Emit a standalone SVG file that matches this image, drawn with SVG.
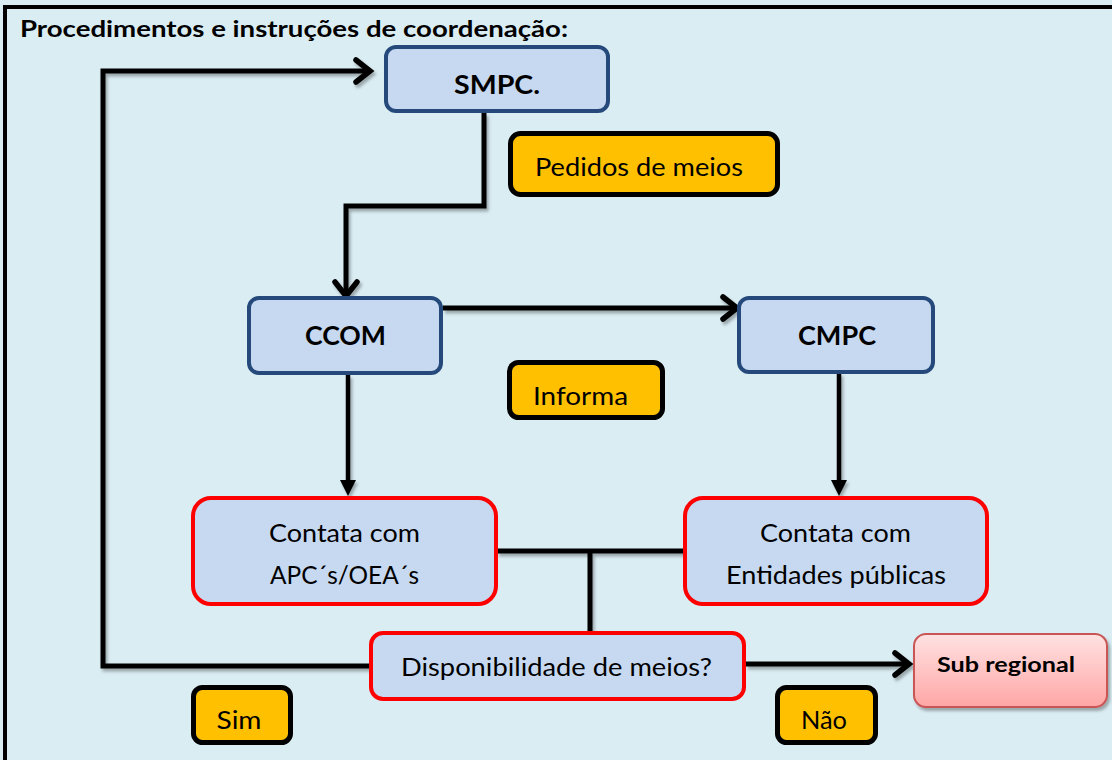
<svg xmlns="http://www.w3.org/2000/svg" width="1112" height="760" viewBox="0 0 1112 760">
<style>
text{font-family:Lato,"Open Sans","Liberation Sans",sans-serif;fill:#000}
.b{font-weight:bold}
.blue{fill:#C6D9F1;stroke:#24497A;stroke-width:4}
.red{fill:#C6D9F1;stroke:#FF0000;stroke-width:4}
.org{fill:#FFC000;stroke:#000;stroke-width:5}
.c{fill:none;stroke:#000;stroke-width:5}
.t{fill:none;stroke:#000;stroke-width:4.5}
</style>
<defs>
<filter id="sh" x="-10%" y="-10%" width="130%" height="130%">
<feDropShadow dx="2" dy="3" stdDeviation="1.5" flood-color="#000" flood-opacity="0.3"/>
</filter>
<linearGradient id="pink" x1="0" y1="0" x2="0" y2="1">
<stop offset="0" stop-color="#FFE2E2"/>
<stop offset="1" stop-color="#FFA6A6"/>
</linearGradient>
<marker id="vee" markerUnits="userSpaceOnUse" markerWidth="34" markerHeight="34" viewBox="-22 -17 34 34" refX="-3" refY="0" orient="auto">
<path d="M-14 -11 L0 0 L-14 11" fill="none" stroke="#000" stroke-width="5.5" stroke-linecap="round" stroke-linejoin="miter"/>
</marker>
<marker id="tri" markerUnits="userSpaceOnUse" markerWidth="30" markerHeight="30" viewBox="-20 -10 30 20" refX="-12" refY="0" orient="auto">
<path d="M-16 -8 L0 0 L-16 8 Z" fill="#000"/>
</marker>
</defs>
<rect x="0" y="0" width="1112" height="760" fill="#DAEDF3"/>
<path d="M5 760 V7 H1112" fill="none" stroke="#000" stroke-width="4"/>
<text class="b" x="20" y="37" font-size="23" textLength="548" lengthAdjust="spacingAndGlyphs">Procedimentos e instruções de coordenação:</text>

<g id="connectors" filter="url(#sh)">
<path class="c" d="M484 113 V206 H346 V293" marker-end="url(#vee)"/>
<path class="c" d="M443 308 H734" marker-end="url(#vee)"/>
<path class="t" d="M348 375 V484" marker-end="url(#tri)"/>
<path class="t" d="M839 373 V484" marker-end="url(#tri)"/>
<path class="c" d="M497 551 H684"/>
<path class="c" d="M590 551 V632"/>
<path class="c" d="M370 666 H103 V71 H367" marker-end="url(#vee)"/>
<path class="c" d="M746 664 H906" marker-end="url(#vee)"/>
</g>

<g id="smpc">
<rect class="blue" x="386" y="47" width="222" height="64" rx="10"/>
<text class="b" x="497" y="94" font-size="26" text-anchor="middle" textLength="86" lengthAdjust="spacingAndGlyphs">SMPC.</text>
</g>
<g id="pedidos">
<rect class="org" x="510.5" y="133.5" width="267" height="61" rx="10"/>
<text x="535" y="176" font-size="25" textLength="208" lengthAdjust="spacingAndGlyphs">Pedidos de meios</text>
</g>
<g id="ccom">
<rect class="blue" x="249" y="298" width="192" height="75" rx="10"/>
<text class="b" x="345.5" y="345" font-size="26" text-anchor="middle" textLength="81" lengthAdjust="spacingAndGlyphs">CCOM</text>
</g>
<g id="cmpc">
<rect class="blue" x="739" y="298" width="194" height="74" rx="10"/>
<text class="b" x="837" y="345" font-size="26" text-anchor="middle" textLength="78" lengthAdjust="spacingAndGlyphs">CMPC</text>
</g>
<g id="informa">
<rect class="org" x="509.5" y="362.5" width="153" height="55" rx="9"/>
<text x="533" y="405" font-size="25" textLength="95" lengthAdjust="spacingAndGlyphs">Informa</text>
</g>
<g id="apc">
<rect class="red" x="193" y="498" width="303" height="106" rx="18"/>
<text x="344.5" y="542" font-size="25" text-anchor="middle" textLength="151" lengthAdjust="spacingAndGlyphs">Contata com</text>
<text x="344.5" y="584" font-size="25" text-anchor="middle" textLength="149" lengthAdjust="spacingAndGlyphs">APC´s/OEA´s</text>
</g>
<g id="entidades">
<rect class="red" x="685" y="498" width="302" height="106" rx="18"/>
<text x="835.5" y="542" font-size="25" text-anchor="middle" textLength="151" lengthAdjust="spacingAndGlyphs">Contata com</text>
<text x="836" y="584" font-size="25" text-anchor="middle" textLength="220" lengthAdjust="spacingAndGlyphs">Entidades públicas</text>
</g>
<g id="disponibilidade">
<rect class="red" x="371" y="633" width="373" height="66" rx="12"/>
<text x="556.5" y="676" font-size="25" text-anchor="middle" textLength="311" lengthAdjust="spacingAndGlyphs">Disponibilidade de meios?</text>
</g>
<g id="subregional">
<rect x="914" y="634" width="193" height="73" rx="12" fill="url(#pink)" stroke="#C95555" stroke-width="2" filter="url(#sh)"/>
<text class="b" x="1006" y="672" font-size="21" text-anchor="middle" textLength="138" lengthAdjust="spacingAndGlyphs">Sub regional</text>
</g>
<g id="sim">
<rect class="org" x="193.5" y="687.5" width="97" height="55" rx="9"/>
<text x="239" y="729" font-size="25" text-anchor="middle" textLength="45" lengthAdjust="spacingAndGlyphs">Sim</text>
</g>
<g id="nao">
<rect class="org" x="777.5" y="687.5" width="98" height="55" rx="9"/>
<text x="824" y="729" font-size="25" text-anchor="middle" textLength="46" lengthAdjust="spacingAndGlyphs">Não</text>
</g>
</svg>
